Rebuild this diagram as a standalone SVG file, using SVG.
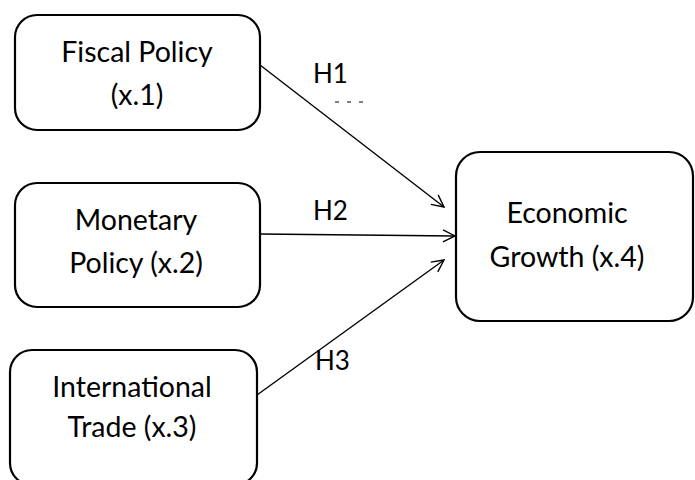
<svg xmlns="http://www.w3.org/2000/svg" width="695" height="480" viewBox="0 0 695 480">
<defs>
<style>
.box{fill:#fff;stroke:#000;stroke-width:2.2}
.t{font-family:Lato,"Open Sans","Liberation Sans",sans-serif;font-size:28.5px;fill:#000;text-anchor:middle}
.lbl{font-family:Lato,"Open Sans","Liberation Sans",sans-serif;font-size:26px;fill:#000}
.c{fill:none;stroke:#000;stroke-width:1.4}
</style>
<marker id="arr" viewBox="0 0 14 14" refX="13" refY="7" markerWidth="14" markerHeight="14" markerUnits="userSpaceOnUse" orient="auto">
<path d="M1,1 L13,7 L1,13" fill="none" stroke="#000" stroke-width="1.4"/>
</marker>
</defs>
<rect width="695" height="480" fill="#fff"/>
<g id="connectors">
<line class="c" x1="260" y1="65" x2="444" y2="207" marker-end="url(#arr)"/>
<line class="c" x1="260" y1="234" x2="455" y2="236" marker-end="url(#arr)"/>
<line class="c" x1="257" y1="395" x2="444" y2="260" marker-end="url(#arr)"/>
<text class="lbl" x="313" y="83">H1</text>
<line x1="335" y1="102" x2="363" y2="102" stroke="#000" stroke-width="1" stroke-dasharray="4,8"/>
<text class="lbl" x="313" y="220">H2</text>
<text class="lbl" x="315" y="370">H3</text>
</g>
<g id="fiscal">
<rect class="box" x="15" y="15" width="245" height="115" rx="22"/>
<text class="t" x="137" y="62">Fiscal Policy</text>
<text class="t" x="137" y="105">(x.1)</text>
</g>
<g id="monetary">
<rect class="box" x="15" y="183" width="245" height="124" rx="22"/>
<text class="t" x="136" y="230">Monetary</text>
<text class="t" x="136" y="273">Policy (x.2)</text>
</g>
<g id="trade">
<rect class="box" x="10" y="350" width="247" height="135" rx="22"/>
<text class="t" x="132" y="397">International</text>
<text class="t" x="132" y="437">Trade (x.3)</text>
</g>
<g id="growth">
<rect class="box" x="456" y="152" width="237" height="169" rx="24"/>
<text class="t" x="567" y="223">Economic</text>
<text class="t" x="567" y="267">Growth (x.4)</text>
</g>
</svg>
